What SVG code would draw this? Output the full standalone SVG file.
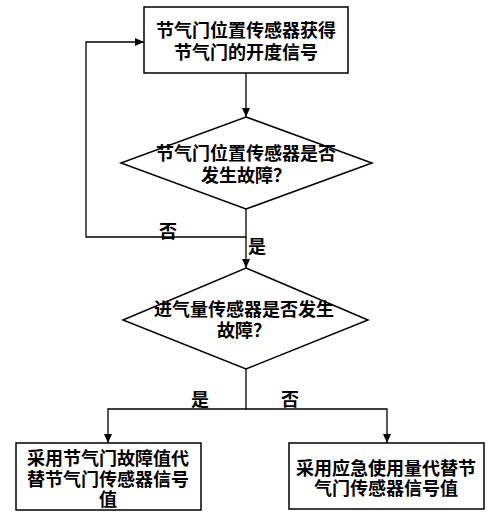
<svg xmlns="http://www.w3.org/2000/svg" width="500" height="528" viewBox="0 0 500 528">
<defs>
<marker id="ah" markerWidth="10" markerHeight="10" refX="9" refY="5" orient="auto" markerUnits="userSpaceOnUse">
<path d="M0,1 L9,5 L0,9 Z" fill="#000"/>
</marker>
<style>
.s{fill:#fff;stroke:#000;stroke-width:1.5}
.c{fill:none;stroke:#000;stroke-width:1.3}
text{font-family:"Noto Sans CJK SC","Noto Sans",sans-serif;font-size:18px;font-weight:700;fill:#000;text-anchor:middle}
</style>
</defs>
<rect width="500" height="528" fill="#fff"/>
<g id="connectors">
<line class="c" x1="246" y1="73" x2="246" y2="117" marker-end="url(#ah)"/>
<polyline class="c" points="246,209 246,237 86,237 86,42 144,42" marker-end="url(#ah)"/>
<line class="c" x1="246" y1="237" x2="246" y2="268" marker-end="url(#ah)"/>
<line class="c" x1="246" y1="369" x2="246" y2="409"/>
<polyline class="c" points="246,409 108,409 108,443" marker-end="url(#ah)"/>
<polyline class="c" points="246,409 387,409 387,443" marker-end="url(#ah)"/>
<text x="168" y="238">否</text>
<text x="257" y="253">是</text>
<text x="200" y="406">是</text>
<text x="290" y="406">否</text>
</g>
<g id="n1">
<rect class="s" x="144" y="7" width="204" height="66"/>
<text x="246" y="37">节气门位置传感器获得</text>
<text x="246" y="59">节气门的开度信号</text>
</g>
<g id="n2">
<polygon class="s" points="246,117 372,163 246,209 121,163"/>
<text x="246" y="160">节气门位置传感器是否</text>
<text x="246" y="182">发生故障？</text>
</g>
<g id="n3">
<polygon class="s" points="246,268 368,320 246,369 123,320"/>
<text x="244" y="316">进气量传感器是否发生</text>
<text x="244" y="337">故障？</text>
</g>
<g id="n4">
<rect class="s" x="16" y="443" width="185" height="67"/>
<text x="108" y="465">采用节气门故障值代</text>
<text x="108" y="486">替节气门传感器信号</text>
<text x="108" y="506">值</text>
</g>
<g id="n5">
<rect class="s" x="289" y="443" width="195" height="66"/>
<text x="386" y="475">采用应急使用量代替节</text>
<text x="386" y="495">气门传感器信号值</text>
</g>
</svg>
